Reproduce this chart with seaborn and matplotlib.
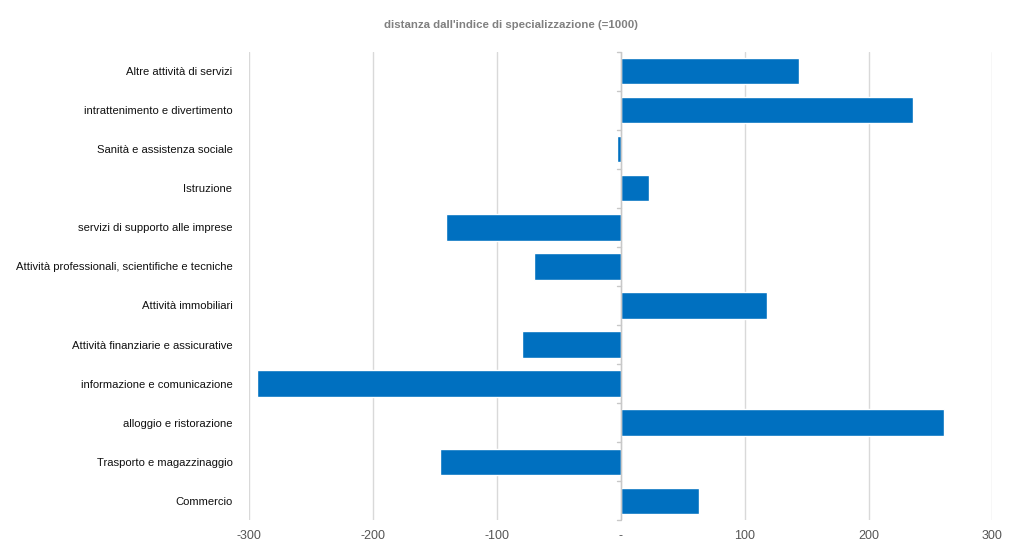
import pandas as pd
import matplotlib.pyplot as plt
import seaborn as sns
from matplotlib import font_manager

categorie = ['Altre attività di servizi', 'intrattenimento e divertimento', 'Sanità e assistenza sociale',
             'Istruzione', 'servizi di supporto alle imprese', 'Attività professionali, scientifiche e tecniche',
             'Attività immobiliari', 'Attività finanziarie e assicurative', 'informazione e comunicazione',
             'alloggio e ristorazione', 'Trasporto e magazzinaggio', 'Commercio']
distanza = [144, 236, -3, 23, -141, -70, 118, -80, -294, 261, -146, 63]
tick_vals = [-300, -200, -100, 0, 100, 200, 300]
tick_labels = ['-300', '-200', '-100', '-', '100', '200', '300']

df = pd.DataFrame({'settore': categorie, 'distanza': distanza})

sns.set_style('white')
names = {f.name for f in font_manager.fontManager.ttflist}
fam = 'Liberation Sans Narrow' if 'Liberation Sans Narrow' in names else 'Liberation Sans'
plt.rcParams['font.family'] = [fam, 'DejaVu Sans']

fig = plt.figure(figsize=(10.21, 5.51), dpi=100)
ax = fig.add_axes([0.244, 0.056, 0.728, 0.85])
sns.barplot(data=df, x='distanza', y='settore', color='#0070C0', width=0.67, ax=ax,
            saturation=1, zorder=3)

ax.set_xlim(-300, 300)
ax.set_ylim(len(categorie) - 0.5, -0.5)
ax.set_xticks(tick_vals)
ax.set_xticklabels(tick_labels)
for v in tick_vals:
    ax.axvline(v, color='#d9d9d9', lw=1, zorder=0)
ax.axvline(0, color='#c8c8c8', lw=1, zorder=4)
for y in range(len(categorie) + 1):
    ax.plot([-3, 0], [y - 0.5, y - 0.5], color='#c8c8c8', lw=1, zorder=4, clip_on=False)

for s in ax.spines.values():
    s.set_visible(False)
ax.tick_params(axis='both', length=0, colors='#333333')
ax.tick_params(axis='y', pad=12, labelsize=8.1)
ax.tick_params(axis='x', pad=7, labelsize=9, colors='#555555')
ax.set_xlabel('')
ax.set_ylabel('')
for lab in ax.get_yticklabels():
    lab.set_color('#111111')

fig.text(0.50, 0.955, "distanza dall'indice di specializzazione (=1000)", ha='center', va='center',
         fontsize=8.2, fontweight='bold', color='#808080')

fig.savefig('out.png', dpi=100)
